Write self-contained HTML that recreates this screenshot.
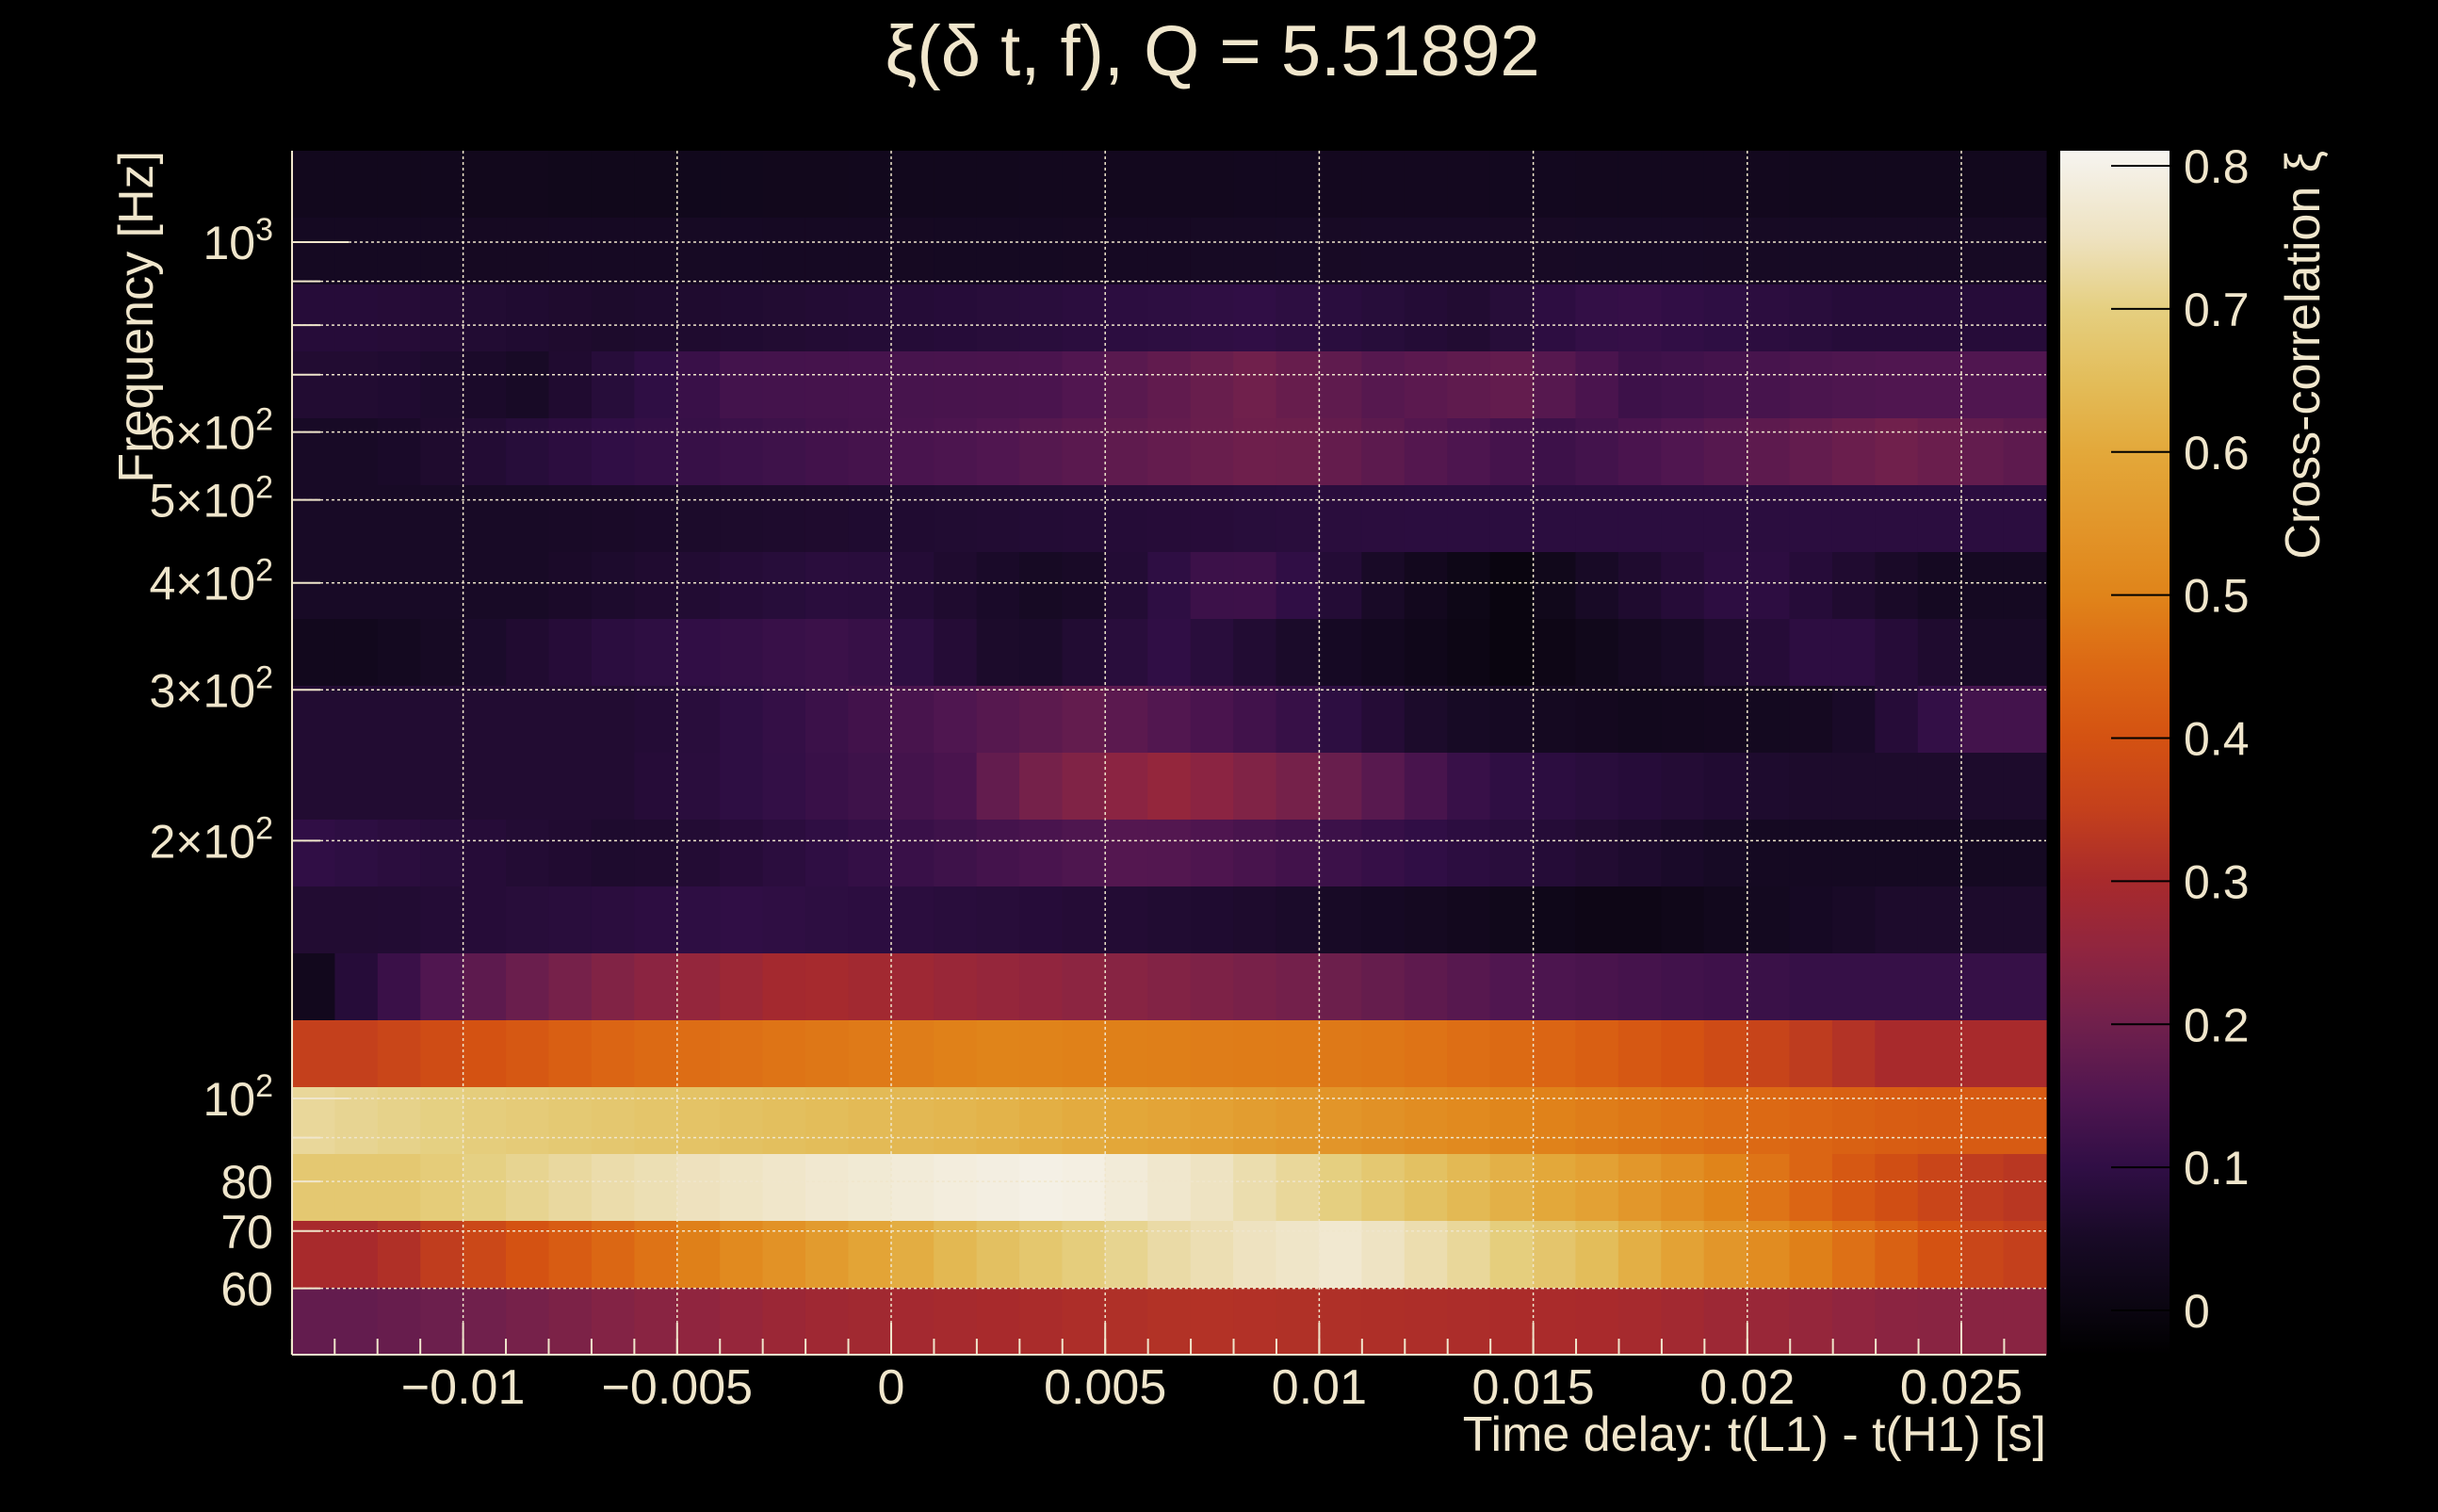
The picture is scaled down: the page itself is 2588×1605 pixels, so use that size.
<!DOCTYPE html>
<html><head><meta charset="utf-8"><style>
html,body{margin:0;padding:0;background:#000;}
body{width:2588px;height:1600px;overflow:hidden;}
svg text{font-family:"Liberation Sans",sans-serif;fill:#f0e6cc;}
</style></head><body>
<svg id="s" width="2588" height="1600" viewBox="0 0 2588 1600" xmlns="http://www.w3.org/2000/svg">
<defs>
<linearGradient id="cb" x1="0" y1="1" x2="0" y2="0">
</linearGradient>
</defs>
<g id="cells"></g>
<g id="grid" stroke="#f0e6cc" stroke-width="1.5" stroke-dasharray="3,3" fill="none"></g>
<g id="ticks" stroke="#f0e6cc" stroke-width="2"></g>
<line x1="310" y1="160" x2="310" y2="1438" stroke="#f0e6cc" stroke-width="2"/>
<line x1="310" y1="1438" x2="2172" y2="1438" stroke="#f0e6cc" stroke-width="2"/>
<rect x="2187" y="160" width="116" height="1278" fill="url(#cb)"/>
<g id="cbt" stroke="#000" stroke-width="2"></g>
<text x="1287" y="80" font-size="76" text-anchor="middle">ξ(δ t, f), Q = 5.51892</text>
<g id="labels"></g>
<text x="2172" y="1540" font-size="52" text-anchor="end">Time delay: t(L1) - t(H1) [s]</text>
<text transform="translate(162,160) rotate(-90)" font-size="52" text-anchor="end">Frequency [Hz]</text>
<text transform="translate(2462,160) rotate(-90)" font-size="52" text-anchor="end">Cross-correlation ξ</text>
</svg>
<script>
var NS="http://www.w3.org/2000/svg";
function el(t,a,p,txt){var e=document.createElementNS(NS,t);for(var k in a)e.setAttribute(k,a[k]);if(txt!==undefined)e.textContent=txt;document.getElementById(p).appendChild(e);return e;}
var stops=[[-0.031,"#000000"],[0,"#0a0510"],[0.05,"#180a26"],[0.1,"#300e45"],[0.15,"#501650"],[0.2,"#70204c"],[0.25,"#8f2540"],[0.3,"#a82a2c"],[0.35,"#c4401c"],[0.4,"#d45212"],[0.45,"#dc6814"],[0.5,"#e0841a"],[0.55,"#e2962a"],[0.6,"#e3a83a"],[0.65,"#e3bd5a"],[0.7,"#e5cf80"],[0.75,"#eee2c0"],[0.811,"#f6f4f0"]];
function hx(c){return [parseInt(c.substr(1,2),16),parseInt(c.substr(3,2),16),parseInt(c.substr(5,2),16)];}
function cmap(v){if(v<=stops[0][0])return stops[0][1];for(var i=1;i<stops.length;i++){if(v<=stops[i][0]){var a=stops[i-1],b=stops[i];var t=(v-a[0])/(b[0]-a[0]);var A=hx(a[1]),B=hx(b[1]);return "rgb("+[0,1,2].map(function(k){return Math.round(A[k]+(B[k]-A[k])*t)}).join(",")+")";}}return stops[stops.length-1][1];}
var g=document.getElementById("cb");
stops.forEach(function(s){var o=(s[0]+0.031)/(0.811+0.031);var e=document.createElementNS(NS,"stop");e.setAttribute("offset",o);e.setAttribute("stop-color",s[1]);g.appendChild(e);});
var rows=[
[[3,0.03],[10,0.025],[20,0.03],[30,0.035],[40,0.03]],
[[5,0.04],[12,0.045],[20,0.04],[30,0.05],[40,0.045]],
[[3,0.08],[10,0.06],[19,0.08],[24,0.1],[29,0.07],[31,0.11],[40,0.08]],
[[3,0.07],[6,0.05],[13,0.13],[20,0.14],[23,0.2],[26,0.16],[29,0.18],[32,0.12],[40,0.15]],
[[3,0.05],[10,0.1],[21,0.15],[23,0.2],[34,0.12],[39,0.2],[40,0.17]],
[[10,0.05],[40,0.09]],
[[10,0.05],[14,0.09],[20,0.04],[22,0.13],[23,0.1],[27,0.04],[28,0.0],[31,0.05],[35,0.1],[40,0.04]],
[[3,0.03],[10,0.09],[14,0.12],[18,0.05],[21,0.1],[25,0.05],[30,0.0],[33,0.05],[37,0.1],[40,0.05]],
[[15,0.07],[20,0.18],[24,0.12],[28,0.05],[33,0.03],[37,0.04],[40,0.13]],
[[14,0.07],[15,0.14],[17,0.2],[22,0.26],[24,0.2],[26,0.15],[28,0.1],[40,0.06]],
[[0,0.1],[14,0.06],[24,0.16],[27,0.1],[40,0.04]],
[[3,0.07],[16,0.1],[17,0.08],[27,0.06],[33,0.01],[40,0.06]],
[[0,0.03],[1,0.08],[4,0.15],[8,0.22],[14,0.3],[20,0.25],[26,0.2],[29,0.15],[40,0.11]],
[[2,0.35],[5,0.4],[9,0.45],[22,0.5],[26,0.48],[30,0.45],[33,0.4],[40,0.3]],
[[0,0.72],[12,0.68],[18,0.63],[23,0.58],[29,0.52],[34,0.47],[40,0.42]],
[[4,0.68],[8,0.73],[15,0.77],[19,0.8],[21,0.76],[24,0.72],[28,0.65],[31,0.58],[34,0.5],[38,0.4],[40,0.33]],
[[3,0.3],[6,0.4],[9,0.47],[13,0.55],[17,0.65],[22,0.73],[25,0.77],[28,0.72],[31,0.65],[34,0.55],[38,0.45],[40,0.35]],
[[2,0.18],[5,0.2],[8,0.23],[14,0.28],[26,0.32],[34,0.3],[40,0.24]]
];
var x0=310,cw=1862/41,y0=160,rh=71;
rows.forEach(function(r,ri){
  var pts=[],st=0;
  r.forEach(function(s){pts.push([(st+s[0])/2,s[1]]);st=s[0]+1;});
  for(var c=0;c<41;c++){
    var v;
    if(c<=pts[0][0])v=pts[0][1];
    else if(c>=pts[pts.length-1][0])v=pts[pts.length-1][1];
    else{for(var i=1;i<pts.length;i++){if(c<=pts[i][0]){var a=pts[i-1],b=pts[i];v=a[1]+(b[1]-a[1])*(c-a[0])/(b[0]-a[0]);break;}}}
    el("rect",{x:(x0+c*cw).toFixed(2),y:y0+ri*rh,width:(cw+0.6).toFixed(2),height:rh+0.5,fill:cmap(v)},"cells");
  }
});
function tx(t){return 946+t*45440;}
[-0.01,-0.005,0,0.005,0.01,0.015,0.02,0.025].forEach(function(t){var x=tx(t);el("line",{x1:x,y1:160,x2:x,y2:1438},"grid");el("line",{x1:x,y1:1404,x2:x,y2:1438},"ticks");el("text",{x:x,y:1490,"font-size":52,"text-anchor":"middle"},"labels",String(t).replace("-","\u2212"));});
for(var i=-14;i<=26;i++){var x=tx(i/1000);el("line",{x1:x,y1:1421,x2:x,y2:1438},"ticks");}
function fy(f){return 1166-909*(Math.log10(f)-2);}
[60,70,80,90,100,200,300,400,500,600,700,800,900,1000].forEach(function(f){var y=fy(f);el("line",{x1:310,y1:y,x2:2172,y2:y},"grid");el("line",{x1:310,y1:y,x2:(f==100||f==1000)?370:340,y2:y},"ticks");});
var yl=[[1000,"10","3"],[600,"6×10","2"],[500,"5×10","2"],[400,"4×10","2"],[300,"3×10","2"],[200,"2×10","2"],[100,"10","2"],[80,"80"],[70,"70"],[60,"60"]];
yl.forEach(function(l){var y=fy(l[0])+18;if(l[2]){var t=el("text",{x:290,y:y,"font-size":50,"text-anchor":"end"},"labels");var a=document.createElementNS(NS,"tspan");a.textContent=l[1];t.appendChild(a);var b=document.createElementNS(NS,"tspan");b.setAttribute("font-size","34");b.setAttribute("dy","-20");b.textContent=l[2];t.appendChild(b);}else el("text",{x:290,y:y,"font-size":50,"text-anchor":"end"},"labels",l[1]);});
for(var k=0;k<=8;k++){var v=k/10,y=1391-1518.75*v;el("line",{x1:2241,y1:y,x2:2303,y2:y},"cbt");el("text",{x:2318,y:y+18,"font-size":50},"labels",k==0?"0":v.toFixed(1));}
</script>
</body></html>
